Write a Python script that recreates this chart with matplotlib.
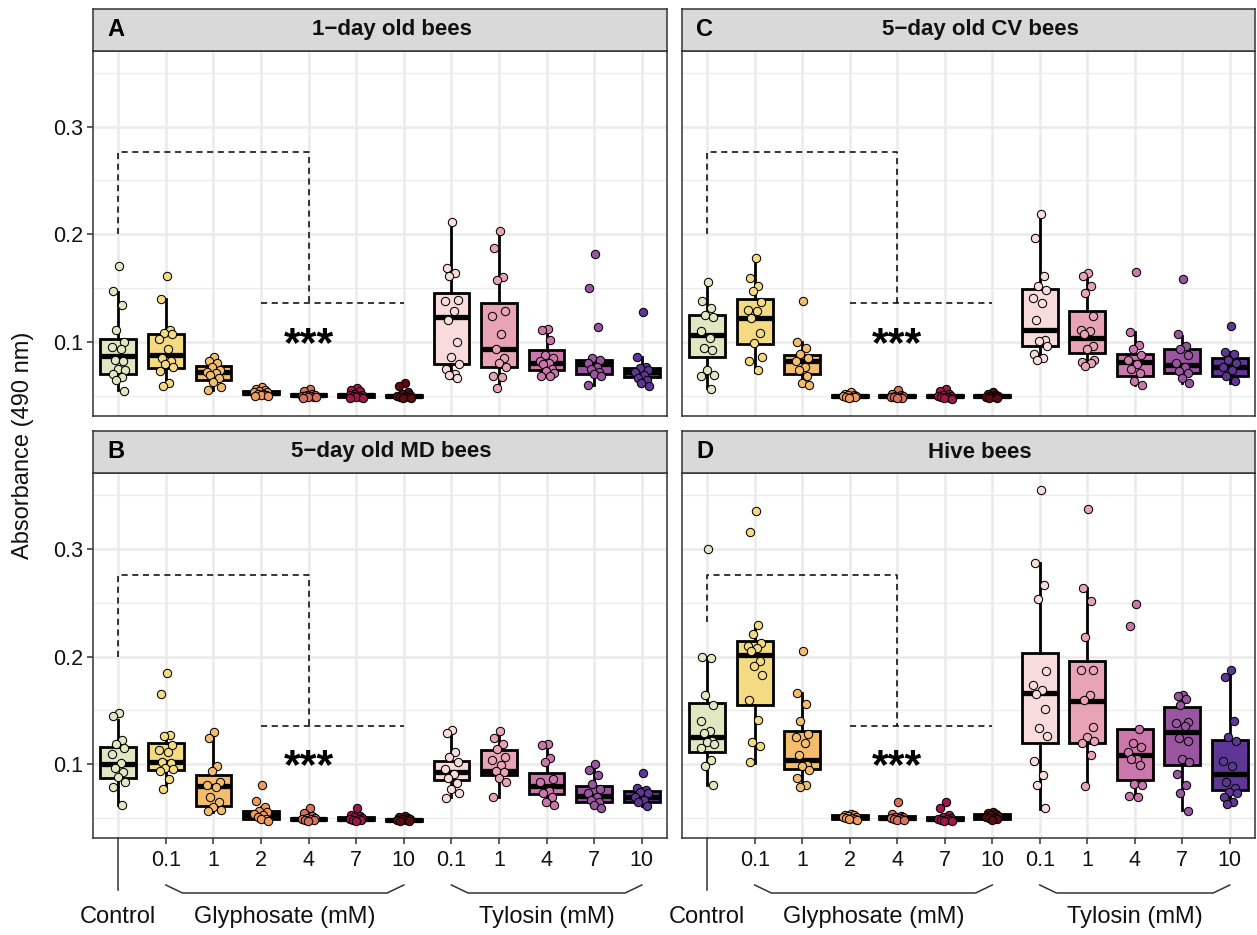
import numpy as np
import matplotlib.pyplot as plt
from matplotlib.transforms import blended_transform_factory

plt.rcParams['font.family'] = ['Liberation Sans', 'DejaVu Sans']

#### groups, labels and colours ####
tick_labels = ['', '0.1', '1', '2', '4', '7', '10', '0.1', '1', '4', '7', '10']
fills = ['#E1E7C1', '#F4DB82', '#F4BD6D', '#EF9B5E', '#D8705D', '#A0174A', '#5C0B10',
         '#F8DCDB', '#E8A4B6', '#CC77AC', '#9A55A0', '#5E3796']
titles = ['1\u2212day old bees', '5\u2212day old MD bees', '5\u2212day old CV bees', 'Hive bees']
letters = ['A', 'B', 'C', 'D']

#### box statistics per group: (whisker low, q1, median, q3, whisker high) ####
box_a = [(0.055, 0.070, 0.087, 0.103, 0.146), (0.060, 0.076, 0.088, 0.107, 0.140),
         (0.055, 0.065, 0.072, 0.078, 0.086), (0.050, 0.0515, 0.0525, 0.054, 0.058),
         (0.048, 0.0495, 0.0505, 0.0515, 0.054), (0.048, 0.049, 0.0505, 0.052, 0.055),
         (0.048, 0.0485, 0.050, 0.051, 0.053), (0.066, 0.079, 0.123, 0.145, 0.211),
         (0.057, 0.077, 0.093, 0.136, 0.203), (0.067, 0.074, 0.080, 0.092, 0.112),
         (0.060, 0.070, 0.079, 0.083, 0.086), (0.059, 0.067, 0.072, 0.076, 0.086)]
box_b = [(0.062, 0.087, 0.100, 0.116, 0.141), (0.0765, 0.095, 0.102, 0.120, 0.127),
         (0.0556, 0.061, 0.080, 0.090, 0.130), (0.047, 0.0495, 0.053, 0.0566, 0.060),
         (0.047, 0.0485, 0.0495, 0.050, 0.052), (0.047, 0.048, 0.0495, 0.051, 0.053),
         (0.047, 0.0475, 0.0486, 0.049, 0.050), (0.0696, 0.085, 0.093, 0.103, 0.1316),
         (0.070, 0.0898, 0.0935, 0.1137, 0.130), (0.062, 0.0727, 0.080, 0.092, 0.1186),
         (0.059, 0.065, 0.071, 0.0795, 0.100), (0.061, 0.065, 0.0696, 0.075, 0.078)]
box_c = [(0.057, 0.086, 0.1065, 0.125, 0.155), (0.072, 0.098, 0.122, 0.140, 0.177),
         (0.060, 0.070, 0.082, 0.088, 0.100), (0.048, 0.049, 0.0498, 0.0505, 0.052),
         (0.048, 0.049, 0.0498, 0.0505, 0.052), (0.047, 0.049, 0.0498, 0.051, 0.053),
         (0.048, 0.049, 0.0498, 0.0505, 0.052), (0.083, 0.096, 0.111, 0.149, 0.219),
         (0.078, 0.0895, 0.104, 0.129, 0.162), (0.060, 0.068, 0.081, 0.089, 0.109),
         (0.0616, 0.0715, 0.0786, 0.093, 0.1056), (0.062, 0.068, 0.077, 0.085, 0.091)]
box_d = [(0.081, 0.1115, 0.125, 0.157, 0.200), (0.1016, 0.155, 0.2014, 0.2147, 0.2293),
         (0.079, 0.0953, 0.1037, 0.131, 0.166), (0.048, 0.0495, 0.051, 0.053, 0.054),
         (0.048, 0.049, 0.0505, 0.052, 0.054), (0.047, 0.048, 0.049, 0.051, 0.053),
         (0.048, 0.0495, 0.051, 0.054, 0.056), (0.0588, 0.1198, 0.166, 0.2036, 0.2867),
         (0.0795, 0.1198, 0.1586, 0.1958, 0.264), (0.071, 0.085, 0.1084, 0.133, 0.133),
         (0.058, 0.099, 0.130, 0.1533, 0.1636), (0.0628, 0.0758, 0.0907, 0.123, 0.1884)]

#### individual measurements per group ####
pts_a = [[0.170, 0.147, 0.134, 0.111, 0.100, 0.095, 0.093, 0.083, 0.082, 0.075, 0.074, 0.070, 0.067, 0.065, 0.054],
         [0.161, 0.140, 0.111, 0.108, 0.107, 0.103, 0.093, 0.085, 0.082, 0.079, 0.077, 0.073, 0.062, 0.059],
         [0.086, 0.082, 0.080, 0.077, 0.074, 0.072, 0.071, 0.069, 0.066, 0.063, 0.058, 0.055],
         [0.058, 0.056, 0.055, 0.054, 0.053, 0.053, 0.052, 0.052, 0.051, 0.051, 0.050, 0.050],
         [0.056, 0.054, 0.052, 0.051, 0.051, 0.050, 0.050, 0.050, 0.049, 0.049, 0.049, 0.048],
         [0.057, 0.055, 0.054, 0.052, 0.051, 0.051, 0.050, 0.050, 0.049, 0.049, 0.048, 0.048],
         [0.062, 0.059, 0.053, 0.052, 0.051, 0.050, 0.050, 0.049, 0.049, 0.048, 0.048],
         [0.211, 0.169, 0.164, 0.161, 0.139, 0.138, 0.129, 0.120, 0.100, 0.086, 0.079, 0.075, 0.070, 0.069, 0.066],
         [0.203, 0.187, 0.160, 0.157, 0.129, 0.124, 0.107, 0.093, 0.085, 0.080, 0.077, 0.068, 0.067, 0.057],
         [0.112, 0.111, 0.102, 0.088, 0.085, 0.082, 0.080, 0.079, 0.075, 0.073, 0.071, 0.068, 0.068],
         [0.182, 0.150, 0.114, 0.085, 0.083, 0.080, 0.077, 0.075, 0.072, 0.070, 0.068, 0.060],
         [0.128, 0.086, 0.077, 0.076, 0.074, 0.072, 0.069, 0.066, 0.065, 0.062, 0.059]]
pts_b = [[0.148, 0.145, 0.123, 0.119, 0.115, 0.110, 0.101, 0.097, 0.093, 0.088, 0.084, 0.079, 0.062],
         [0.185, 0.165, 0.127, 0.126, 0.118, 0.113, 0.111, 0.102, 0.101, 0.097, 0.096, 0.094, 0.086, 0.077],
         [0.130, 0.124, 0.098, 0.094, 0.084, 0.081, 0.079, 0.070, 0.065, 0.060, 0.058, 0.057],
         [0.081, 0.066, 0.060, 0.057, 0.056, 0.054, 0.053, 0.051, 0.049, 0.049, 0.047],
         [0.059, 0.055, 0.052, 0.050, 0.050, 0.049, 0.049, 0.048, 0.048, 0.047],
         [0.059, 0.053, 0.052, 0.051, 0.050, 0.049, 0.049, 0.048, 0.048, 0.047],
         [0.052, 0.051, 0.050, 0.049, 0.049, 0.048, 0.048, 0.047, 0.047],
         [0.132, 0.129, 0.111, 0.107, 0.102, 0.096, 0.091, 0.087, 0.083, 0.077, 0.073, 0.069],
         [0.131, 0.124, 0.119, 0.114, 0.107, 0.104, 0.099, 0.094, 0.093, 0.087, 0.084, 0.070],
         [0.119, 0.118, 0.106, 0.102, 0.086, 0.084, 0.075, 0.073, 0.070, 0.065, 0.062],
         [0.100, 0.095, 0.090, 0.082, 0.077, 0.073, 0.070, 0.067, 0.065, 0.062, 0.059],
         [0.092, 0.078, 0.076, 0.074, 0.073, 0.070, 0.067, 0.065, 0.061]]
pts_c = [[0.156, 0.138, 0.131, 0.125, 0.123, 0.110, 0.104, 0.094, 0.092, 0.074, 0.069, 0.068, 0.056],
         [0.178, 0.159, 0.152, 0.147, 0.137, 0.130, 0.129, 0.122, 0.108, 0.099, 0.086, 0.082, 0.074],
         [0.138, 0.100, 0.094, 0.089, 0.085, 0.082, 0.077, 0.074, 0.068, 0.062, 0.060],
         [0.053, 0.052, 0.051, 0.051, 0.050, 0.050, 0.049, 0.049, 0.049, 0.048],
         [0.055, 0.052, 0.051, 0.050, 0.050, 0.049, 0.049, 0.049, 0.048, 0.048],
         [0.056, 0.054, 0.052, 0.051, 0.050, 0.050, 0.049, 0.049, 0.048, 0.048, 0.047],
         [0.053, 0.052, 0.051, 0.050, 0.050, 0.049, 0.049, 0.048, 0.048],
         [0.219, 0.196, 0.161, 0.152, 0.148, 0.141, 0.136, 0.120, 0.102, 0.101, 0.096, 0.089, 0.085, 0.083],
         [0.164, 0.161, 0.152, 0.145, 0.124, 0.111, 0.110, 0.107, 0.096, 0.093, 0.083, 0.081, 0.080, 0.078],
         [0.165, 0.109, 0.097, 0.093, 0.088, 0.083, 0.079, 0.075, 0.071, 0.064, 0.060],
         [0.158, 0.107, 0.096, 0.093, 0.088, 0.080, 0.077, 0.073, 0.071, 0.066, 0.062],
         [0.115, 0.091, 0.089, 0.083, 0.080, 0.077, 0.074, 0.068, 0.064]]
pts_d = [[0.300, 0.200, 0.199, 0.164, 0.155, 0.140, 0.131, 0.129, 0.122, 0.121, 0.119, 0.115, 0.104, 0.098, 0.081],
         [0.335, 0.316, 0.229, 0.221, 0.213, 0.210, 0.208, 0.205, 0.196, 0.191, 0.183, 0.160, 0.141, 0.121, 0.117, 0.102],
         [0.205, 0.166, 0.156, 0.140, 0.128, 0.125, 0.120, 0.109, 0.099, 0.098, 0.095, 0.087, 0.081, 0.079],
         [0.054, 0.053, 0.053, 0.052, 0.051, 0.051, 0.050, 0.050, 0.049, 0.049, 0.048],
         [0.065, 0.054, 0.052, 0.051, 0.051, 0.050, 0.050, 0.049, 0.049, 0.048, 0.048],
         [0.065, 0.059, 0.053, 0.051, 0.050, 0.049, 0.049, 0.048, 0.048, 0.047, 0.047],
         [0.056, 0.055, 0.054, 0.053, 0.052, 0.051, 0.050, 0.050, 0.049, 0.048],
         [0.355, 0.287, 0.266, 0.253, 0.187, 0.174, 0.169, 0.165, 0.151, 0.134, 0.126, 0.103, 0.090, 0.081, 0.059],
         [0.337, 0.264, 0.252, 0.218, 0.188, 0.188, 0.164, 0.160, 0.135, 0.125, 0.122, 0.120, 0.109, 0.080],
         [0.249, 0.228, 0.133, 0.120, 0.116, 0.111, 0.105, 0.105, 0.099, 0.082, 0.081, 0.071, 0.070],
         [0.164, 0.163, 0.161, 0.155, 0.139, 0.138, 0.136, 0.124, 0.122, 0.105, 0.102, 0.091, 0.081, 0.073, 0.057],
         [0.188, 0.181, 0.140, 0.125, 0.122, 0.103, 0.098, 0.084, 0.078, 0.074, 0.073, 0.070, 0.065, 0.063]]

# significance bracket (start of left leg, top, lower bar) and star height
bracket_start = [0.2, 0.2, 0.2, 0.232]
bracket_top = 0.276
bracket_low = 0.136
star_y = 0.097

# fixed horizontal jitter pattern for the points
jitter = [0.02, -0.10, 0.08, -0.04, 0.13, -0.14, 0.05, -0.07, 0.11, -0.01, 0.15, -0.12, 0.07, -0.05, 0.12, -0.09]

W, H = 1257, 935
fig = plt.figure(figsize=(W / 100, H / 100), dpi=100)
fig.patch.set_facecolor('white')

# pixel layout of the panels
lefts = [93, 93, 682, 682]
rights = [667, 667, 1255, 1255]
tops = [9, 431, 9, 431]
plot_tops = [50.7, 473, 50.7, 473]
bottoms = [415.5, 838, 415.5, 838]

boxes_all = [box_a, box_b, box_c, box_d]
pts_all = [pts_a, pts_b, pts_c, pts_d]
xpos = np.arange(1, 13)
edge = '#333333'
txt = '#111111'

for k in range(4):
    l, r, st, pt, b = lefts[k], rights[k], tops[k], plot_tops[k], bottoms[k]
    ax = fig.add_axes([l / W, 1 - b / H, (r - l) / W, (b - pt) / H])
    sax = fig.add_axes([l / W, 1 - pt / H, (r - l) / W, (pt - st) / H])

    # grid
    for v in [0.05, 0.15, 0.25, 0.35]:
        ax.axhline(v, color='#EBEBEB', lw=0.9, zorder=0)
    for v in [0.1, 0.2, 0.3]:
        ax.axhline(v, color='#EBEBEB', lw=1.8, zorder=0)
    for xv in xpos:
        ax.axvline(xv, color='#EBEBEB', lw=1.8, zorder=0)

    stats = [{'whislo': s[0], 'q1': s[1], 'med': s[2], 'q3': s[3], 'whishi': s[4]} for s in boxes_all[k]]
    bp = ax.bxp(stats, positions=xpos, widths=0.75, patch_artist=True, showfliers=False, showcaps=False,
                boxprops=dict(linewidth=2.0, edgecolor='black'),
                medianprops=dict(color='black', linewidth=3.8, solid_capstyle='butt'),
                whiskerprops=dict(color='black', linewidth=2.0))
    for patch, c in zip(bp['boxes'], fills):
        patch.set_facecolor(c)
        patch.set_zorder(2)

    for i, vals in enumerate(pts_all[k]):
        xs = xpos[i] + np.array(jitter[:len(vals)])
        ax.scatter(xs, vals, s=36, color=fills[i], edgecolors='black', linewidths=0.75, zorder=4)

    # dashed comparison bracket
    ax.plot([1, 1, 5, 5], [bracket_start[k], bracket_top, bracket_top, bracket_low],
            color='black', lw=1.1, ls=(0, (4, 3)), zorder=3)
    ax.plot([4, 7], [bracket_low, bracket_low], color='black', lw=1.1, ls=(0, (4, 3)), zorder=3)
    ax.text(5, star_y, '***', ha='center', va='center', fontsize=31, fontweight='bold', zorder=5)

    ax.set_xlim(0.47, 12.53)
    ax.set_ylim(0.0316, 0.3704)
    for sp in ax.spines.values():
        sp.set_color(edge)
        sp.set_linewidth(1.1)

    if k in (0, 1):
        ax.set_yticks([0.1, 0.2, 0.3])
        ax.set_yticklabels(['0.1', '0.2', '0.3'])
        ax.tick_params(axis='y', length=4, width=1.1, color=edge, labelsize=15.5, labelcolor=txt, pad=3)
    else:
        ax.set_yticks([])

    if k in (1, 3):
        ax.set_xticks(xpos[1:])
        ax.set_xticklabels(tick_labels[1:])
        ax.tick_params(axis='x', length=4, width=1.1, color=edge, labelsize=15.5, labelcolor=txt, pad=5)
        tr = blended_transform_factory(ax.transData, ax.transAxes)
        ph = b - pt
        ax.plot([1, 1], [0, -(890 - b) / ph], color=edge, lw=1.1, transform=tr, clip_on=False)
        yb1 = -(885 - b) / ph
        yb2 = -(893 - b) / ph
        ax.plot([2, 2.35, 6.65, 7], [yb1, yb2, yb2, yb1], color=edge, lw=1.1, transform=tr, clip_on=False)
        ax.plot([8, 8.35, 11.65, 12], [yb1, yb2, yb2, yb1], color=edge, lw=1.1, transform=tr, clip_on=False)
        ylab = -(917 - b) / ph
        ax.text(1, ylab, 'Control', transform=tr, ha='center', va='center', fontsize=17, color=txt)
        ax.text(4.5, ylab, 'Glyphosate (mM)', transform=tr, ha='center', va='center', fontsize=17, color=txt)
        ax.text(10, ylab, 'Tylosin (mM)', transform=tr, ha='center', va='center', fontsize=17, color=txt)
    else:
        ax.set_xticks([])

    # facet strip
    sax.set_facecolor('#D9D9D9')
    sax.set_xticks([])
    sax.set_yticks([])
    for sp in sax.spines.values():
        sp.set_color(edge)
        sp.set_linewidth(1.1)
    sax.text(0.52, 0.5, titles[k], ha='center', va='center', fontsize=16, fontweight='bold', color=txt)
    sax.text(14 / (r - l), 0.5, letters[k], ha='left', va='center', fontsize=17, fontweight='bold', color='black')

fig.text(23 / W, 1 - 445 / H, 'Absorbance (490 nm)', rotation=90, ha='center', va='center', fontsize=17, color=txt)

fig.savefig('out.png', dpi=100)
